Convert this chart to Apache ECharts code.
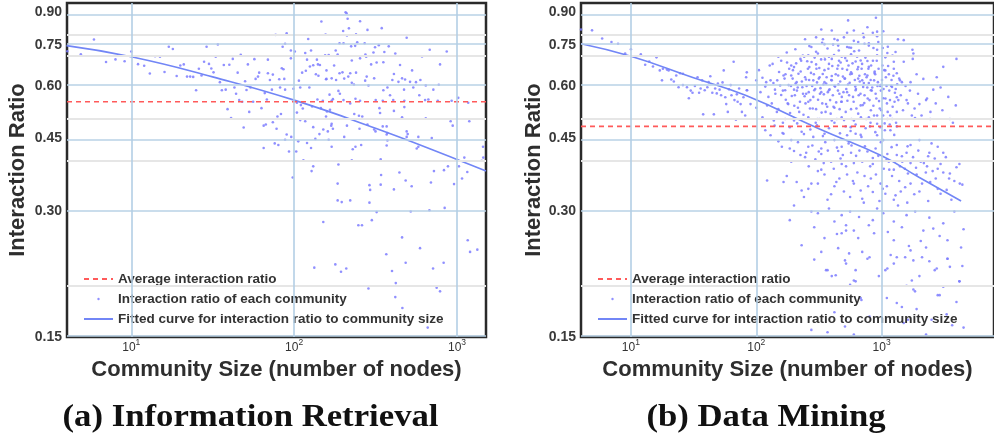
<!DOCTYPE html>
<html><head><meta charset="utf-8">
<script src="https://cdn.jsdelivr.net/npm/echarts@6/dist/echarts.min.js"></script>
<style>html,body{margin:0;padding:0;background:#fff}#c{width:994px;height:440px}</style>
</head><body><div id="c"></div>
<script>
// ---------- data (community size, interaction ratio) ----------
const irPoints = [
[5.9,0.776],[4.9,0.715],[4.05,0.727],[7.0,0.685],[8.0,0.695],[9.1,0.688],[10,0.726],[11,0.677],[12,0.671],[13,0.643],[14,0.707],[15,0.705],[16,0.648],[17,0.745],[18,0.736],[19,0.634],[20,0.672],[21,0.676],[22,0.632],[23,0.632],[24,0.631],[25,0.586],[26,0.66],[27,0.636],[28,0.686],[29,0.745],[30,0.678],[31,0.661],[32,0.647],[33,0.705],[34,0.755],[35,0.613],[36,0.586],[37,0.674],[38,0.588],[40,0.675],[39,0.528],[41,0.503],[42,0.697],[43,0.595],[44,0.575],[45,0.646],[46,0.555],[47,0.713],[48,0.55],[49,0.477],[50,0.616],[51,0.587],[52,0.676],[53,0.52],
[207,0.902],[210,0.897],[213,0.870],[147,0.857],[254,0.858],[77,0.796],[90,0.803],[156,0.797],[200,0.813],[217,0.825],[211,0.793],[240,0.798],[282,0.818],[345,0.826],[491,0.783],[122,0.778],[88,0.758],[85,0.745],[190,0.76],[201,0.76],[244,0.764],[271,0.76],[331,0.752],[314,0.743],[381,0.747],[95.5,0.73],[101,0.726],[127,0.73],[117,0.72],[155,0.711],[163,0.712],[180,0.73],[185,0.714],[224,0.747],[237,0.749],[274,0.714],[277,0.705],[307,0.722],[358,0.724],[418,0.718],[680,0.733],[865,0.726],[610,0.706],
[57,0.696],[69,0.694],[95.5,0.699],[120,0.694],[138,0.694],[226,0.691],[254,0.699],[297,0.676],[321,0.683],[353,0.684],[447,0.674],[530,0.654],[787,0.676],
[61,0.646],[69,0.644],[74,0.639],[84,0.662],[86,0.658],[112,0.646],[118,0.653],[125,0.668],[131,0.673],[140,0.676],[144,0.674],[136,0.64],[141,0.635],[158,0.654],[176,0.672],[157,0.623],[190,0.644],[198,0.647],[221,0.644],[240,0.646],[215,0.632],[279,0.632],[273,0.618],[410,0.641],[401,0.62],[460,0.626],[480,0.622],[560,0.613],[596,0.62],
[60,0.632],[58,0.624],[71,0.62],[81,0.623],[87,0.624],[107,0.618],[158,0.624],[170,0.626],[181,0.62],[203,0.625],[226,0.611],[233,0.605],[286,0.602],[310,0.626],[437,0.614],[515,0.614],[643,0.602],[716,0.588],[773,0.604],
[54,0.595],[66,0.577],[73,0.588],[82,0.595],[88,0.588],[99,0.591],[109,0.595],[124,0.595],[165,0.572],[173,0.558],[187,0.584],[191,0.575],[353,0.586],[374,0.595],[388,0.57],[473,0.588],[539,0.595],[587,0.57],[667,0.557],[762,0.553],
[139,0.557],[150,0.553],[170,0.553],[238,0.559],[254,0.553],[317,0.555],[350,0.553],[406,0.555],[475,0.553],[637,0.555],[927,0.553],[1018,0.562],[1172,0.547],
[56,0.55],[63,0.531],[68,0.557],[104,0.547],[110,0.54],[113,0.53],[129,0.536],[146,0.531],[166,0.526],[159,0.521],[201,0.555],[221,0.545],[334,0.531],[337,0.517],[410,0.523],[475,0.534],
[83,0.514],[79,0.507],[104,0.518],[109,0.497],[157,0.507],[170,0.487],[234,0.514],[250,0.509],[262,0.507],[460,0.505],[643,0.502],
[65,0.482],[67,0.485],[74,0.491],[78,0.474],[117,0.494],[131,0.478],[143,0.46],[151,0.472],[161,0.467],[169,0.482],[173,0.474],[211,0.482],[252,0.474],[282,0.485],[310,0.472],[316,0.467],[350,0.48],[370,0.48],[374,0.463],[370,0.459],[491,0.467],[498,0.46],[914,0.494],[941,0.482],[1190,0.494],
[90,0.459],[96,0.453],[88,0.446],[76,0.437],[80,0.433],[65,0.426],
[106,0.442],[120,0.438],[135,0.448],[163,0.446],[170,0.429],[203,0.453],[238,0.429],[258,0.433],[374,0.444],[370,0.432],[491,0.453],[579,0.453],[700,0.45],[579,0.429],[566,0.425],[1445,0.429],
[93,0.418],[103,0.418],[127,0.426],[229,0.423],[114,0.398],[131,0.385],[128,0.375],[187,0.389],[226,0.398],[340,0.40],[443,0.372],[484,0.356],[527,0.345],[692,0.352],[722,0.375],[832,0.377],[880,0.385],[959,0.349],[1028,0.385],[1074,0.36],[1157,0.373],[1109,0.404],[1419,0.397],[1450,0.404],[98,0.362],[185,0.35],[185,0.319],[196,0.316],[221,0.319],[290,0.347],[293,0.338],[290,0.315],[342,0.367],[340,0.348],[410,0.339],[321,0.299],[300,0.286],[520,0.30],[677,0.302],[840,0.306],[151,0.283],[248,0.278],[261,0.278],[460,0.26],[593,0.245],[368,0.237],[484,0.226],[713,0.219],[828,0.226],[1164,0.256],[1203,0.24],[1333,0.243],[133,0.22],[179,0.224],[194,0.215],[209,0.219],[399,0.216],[421,0.202],[286,0.196],[418,0.187],[750,0.197],[787,0.193],[462,0.176],[661,0.158]
];
const dmPoints = [
[4.0,0.82],[4.9,0.816],[5.9,0.78],[7.0,0.765],[7.9,0.758],[9.0,0.718],[10,0.735],[10.8,0.705],[12,0.715],[13,0.675],[14,0.687],[15,0.668],[16,0.703],[17,0.654],[18,0.66],[19.4,0.657],[17.7,0.619],[20,0.654],[21,0.622],[22,0.615],[23,0.636],[24.7,0.644],[26,0.642],[24,0.596],[26,0.603],[28,0.596],[29,0.561],[30,0.585],[31,0.578],[32.4,0.60],[34,0.63],[35,0.578],[36,0.592],[37,0.619],[37.7,0.513],[38.8,0.586],[40.7,0.596],[41.7,0.613],[43,0.633],[44.6,0.578],[45.9,0.513],[47,0.592],[48.4,0.576],[49.4,0.608],[51,0.588],[52.4,0.57],[53.8,0.612],[55,0.654],[56.6,0.564],[57.6,0.543],[59.3,0.52],[60.6,0.589],[62.5,0.603],[63.4,0.57],[66,0.686],[67,0.555],[68.8,0.498],[70,0.573],[71,0.55],[73,0.592],[75,0.543],[76.8,0.52],[79,0.564],[81.6,0.51],[83,0.63],[84,0.647],[84.5,0.586],
[540,0.862],[900,0.875],[330,0.82],[400,0.815],[770,0.83],[920,0.81],[1030,0.812],[530,0.805],[600,0.815],[710,0.80],[850,0.805],
[245,0.777],[300,0.785],[340,0.777],[420,0.778],[445,0.773],[920,0.79],[1350,0.777],[1500,0.773],[650,0.765],[730,0.758],
[275,0.744],[350,0.756],[450,0.75],[530,0.744],[570,0.741],[790,0.75],[920,0.733],[1110,0.72],[1290,0.724],[1760,0.733],[1790,0.718],
[225,0.697],[260,0.711],[310,0.718],[350,0.707],[400,0.697],[480,0.705],[570,0.715],[620,0.687],[680,0.691],[770,0.689],[920,0.711],[1070,0.703],[1250,0.686],[1500,0.686],[1770,0.697],[3950,0.697],[3100,0.667],
[135,0.678],[190,0.672],[200,0.666],[265,0.666],[300,0.676],[380,0.678],[450,0.672],[530,0.656],[650,0.666],[790,0.667],[880,0.65],[1070,0.654],[1320,0.644],[1400,0.619],[1900,0.64],[2150,0.624],[2750,0.63],
[100,0.619],[120,0.613],[130,0.619],[147,0.619],[165,0.636],[190,0.636],[210,0.613],[245,0.63],[285,0.619],[320,0.63],[350,0.613],[400,0.619],[450,0.636],[510,0.625],[570,0.647],[650,0.625],[700,0.619],[770,0.636],[870,0.619],[980,0.603],[1210,0.597],[1450,0.613],[1700,0.613],[2580,0.588],[2950,0.595],
[84,0.586],[108,0.58],[142,0.575],[170,0.586],[200,0.588],[250,0.575],[290,0.586],[330,0.58],[380,0.586],[460,0.575],[530,0.58],[620,0.586],[730,0.57],[820,0.586],[1030,0.561],[1320,0.564],[1580,0.555],[2000,0.543],[2260,0.555],[3900,0.539],[3500,0.50],
[90,0.543],[100,0.532],[122,0.539],[150,0.528],[180,0.543],[215,0.532],[260,0.55],[300,0.528],[360,0.543],[420,0.532],[480,0.55],[570,0.528],[680,0.539],[820,0.525],[920,0.51],[1170,0.51],[1320,0.52],[1740,0.51],[2440,0.50],[1845,0.503],
[112,0.505],[138,0.496],[170,0.50],[200,0.496],[260,0.505],[320,0.50],[400,0.496],[480,0.505],[600,0.496],[790,0.505],[920,0.487],[1110,0.50],
[130,0.457],[165,0.461],[190,0.445],[230,0.466],[285,0.453],[350,0.461],[420,0.445],[530,0.457],[620,0.461],[690,0.453],[920,0.457],[1030,0.445],[1320,0.433],[1700,0.433],[2000,0.445],[2500,0.437],[2800,0.429],
[160,0.429],[260,0.429],[330,0.425],[480,0.429],
[200,0.419],[250,0.415],[330,0.412],[450,0.419],[570,0.415],[850,0.403],[1110,0.412],[1450,0.407],[1580,0.415],[2350,0.407],[3100,0.415],[4170,0.39],
[122,0.356],[165,0.353],[210,0.353],[230,0.337],[275,0.35],[310,0.375],[350,0.368],[435,0.353],[480,0.39],[530,0.368],[600,0.35],[680,0.337],[730,0.365],[850,0.334],[980,0.35],[1070,0.331],[1210,0.365],[1290,0.328],[1540,0.343],[1700,0.35],[1900,0.368],[2100,0.35],[2440,0.353],[2950,0.331],[3500,0.37],[3950,0.383],
[185,0.286],[275,0.30],[310,0.297],[420,0.284],[480,0.294],[520,0.278],[660,0.291],[850,0.286],[1030,0.297],[1250,0.284],[1580,0.294],[2150,0.27],[2580,0.273],[3100,0.281],
[230,0.249],[350,0.259],[480,0.266],[520,0.27],[650,0.259],[870,0.266],[1250,0.256],[1700,0.242],[2260,0.246],[3350,0.256],[4300,0.246],
[510,0.229],[620,0.217],[770,0.231],[1110,0.219],[1320,0.233],[1790,0.229],[2750,0.219],[3350,0.231],[370,0.217],[400,0.21],
[620,0.204],[1580,0.199],[1790,0.195],[4170,0.204],[680,0.186],[1320,0.181],[2900,0.189],[3950,0.182],[275,0.156],[370,0.154],[600,0.152],[1500,0.162],[2260,0.152],
[330,0.24],[550,0.238],[800,0.233],[1180,0.236],[1540,0.233],[2100,0.233],[3350,0.231],[360,0.217],[430,0.211],[520,0.225],[600,0.205],[1070,0.217],[1740,0.205],[2650,0.217],[3500,0.221],[4170,0.204],[1845,0.193],[2800,0.189],[690,0.184],[1450,0.177],[510,0.159],[1620,0.165],[3650,0.16],
[105,0.655],[112,0.628],[118,0.598],[125,0.565],[128,0.672],[133,0.545],[137,0.61],[141,0.588],[146,0.52],[152,0.648],[155,0.602],[158,0.571],[163,0.49],[168,0.625],[172,0.556],[176,0.683],[181,0.603],[186,0.517],[192,0.568],[196,0.655],[201,0.538],[206,0.608],[211,0.585],[217,0.642],[223,0.55],[228,0.69],[233,0.596],[238,0.512],[243,0.567],[249,0.622],[255,0.688],[262,0.58],[268,0.53],[273,0.645],[279,0.6],[285,0.565],[292,0.702],[298,0.49],[305,0.612],[311,0.556],[318,0.663],[325,0.593],[332,0.518],[339,0.641],[346,0.573],[353,0.695],[361,0.608],[368,0.535],[376,0.66],[384,0.589],[392,0.515],[400,0.634],[408,0.57],[417,0.712],[425,0.598],[434,0.548],[443,0.66],[452,0.605],[462,0.528],[471,0.683],[481,0.565],[491,0.632],[501,0.497],[512,0.7],[522,0.59],[533,0.553],[544,0.672],[556,0.611],[567,0.478],[579,0.642],[591,0.565],[604,0.727],[616,0.598],[629,0.53],[642,0.658],[656,0.57],[669,0.615],[683,0.505],[698,0.678],[712,0.597],[727,0.546],[742,0.702],[758,0.63],[774,0.56],[790,0.61],[807,0.48],[824,0.672],[841,0.595],[859,0.538],[877,0.645],[895,0.575],[914,0.69],[933,0.613],[953,0.552],[973,0.6],[993,0.525],[1014,0.672],[1035,0.59],[1057,0.488],[1080,0.63],[1102,0.545],[1126,0.67],[1150,0.585],[1174,0.47],[1199,0.62],[1224,0.535],[1250,0.66],[1276,0.578],[1303,0.49],[1330,0.606],[1358,0.555],
[118,0.47],[140,0.482],[162,0.463],[185,0.478],[212,0.488],[240,0.46],[270,0.472],[305,0.483],[340,0.455],[380,0.475],[420,0.49],[465,0.462],[515,0.48],[565,0.468],[620,0.485],[680,0.458],[745,0.475],[815,0.49],[890,0.465],[975,0.478],[1060,0.47],[1160,0.485],[1260,0.458],
[150,0.705],[175,0.722],[205,0.735],[235,0.71],[265,0.748],[300,0.725],[335,0.762],[370,0.738],[410,0.755],[455,0.73],[500,0.785],[550,0.742],[600,0.77],[660,0.73],[720,0.785],[790,0.76],[860,0.74],[940,0.765],[1020,0.74],[1120,0.745],[1220,0.71],
[150,0.442],[185,0.425],[215,0.44],[245,0.405],[280,0.432],[315,0.418],[355,0.44],[395,0.395],[440,0.427],[490,0.41],[545,0.437],[600,0.392],[665,0.42],[735,0.43],[810,0.385],[895,0.425],[985,0.44],[1090,0.398],[1200,0.428],[1320,0.41],[1460,0.395],[1610,0.43],[1780,0.405],[1960,0.42],[2170,0.392],[2400,0.415],[2650,0.402],[2950,0.39],[3250,0.405],
[175,0.365],[260,0.34],[330,0.378],[395,0.33],[460,0.36],[560,0.325],[640,0.372],[780,0.345],[900,0.368],[1020,0.34],[1150,0.378],[1380,0.355],[1620,0.37],[1820,0.33],[2250,0.372],[2700,0.36],[3300,0.338],[4400,0.348],
[200,0.31],[290,0.275],[380,0.305],[440,0.265],[560,0.3],[600,0.27],[720,0.315],[790,0.278],[920,0.305],[1120,0.268],[1350,0.31],[1450,0.275],[1850,0.3],[2050,0.255],[2400,0.29],[2900,0.262],[3800,0.3],[4500,0.272],
[290,0.23],[450,0.245],[560,0.2],[700,0.24],[950,0.21],[1250,0.225],[1650,0.248],[2000,0.21],[2400,0.228],[3100,0.198],[4400,0.222],
[420,0.172],[800,0.168],[1100,0.186],[1900,0.175],[2500,0.165],[3300,0.17],[4500,0.158],
[158,0.69],[163,0.585],[171,0.64],[178,0.545],[183,0.66],[189,0.6],[195,0.625],[203,0.57],[208,0.68],[214,0.595],[220,0.52],[226,0.65],[231,0.615],[236,0.575],[241,0.705],[247,0.545],[252,0.6],[258,0.66],[264,0.62],[270,0.555],[276,0.685],[282,0.53],[288,0.64],[295,0.59],[302,0.66],[308,0.5],[315,0.625],[322,0.575],[329,0.695],[336,0.545],[343,0.605],[350,0.655],[357,0.52],[364,0.63],[372,0.58],[380,0.705],[388,0.555],[396,0.62],[404,0.67],[413,0.535],[421,0.6],[430,0.64],[439,0.5],[448,0.585],[457,0.69],[467,0.615],[476,0.55],[486,0.66],[496,0.58],[506,0.625],[517,0.52],[528,0.69],[539,0.605],[550,0.57],[562,0.64],[574,0.5],[586,0.68],[598,0.55],[611,0.62],[624,0.59],[637,0.705],[650,0.515],[664,0.635],[678,0.575],[692,0.66],[707,0.54],[721,0.61],[736,0.64],[752,0.5],[768,0.595],[784,0.66],[800,0.555],[817,0.62],[834,0.585],[852,0.69],[870,0.51],[888,0.64],[907,0.56],[926,0.6],[945,0.66],[965,0.53],[986,0.585],[1006,0.62],[1028,0.51],[1049,0.655],[1072,0.56],[1094,0.6],[1117,0.52],[1141,0.64],[1165,0.555],[1190,0.6],[1215,0.5],[1241,0.635],[1267,0.55],[1294,0.59],[1321,0.48],[1380,0.625],[1420,0.57],[1480,0.525],[1550,0.6],[1620,0.545],[1680,0.585],[1830,0.53],[1950,0.575],[2080,0.51],[2300,0.56],[2450,0.52],[2700,0.545],[3050,0.525],[3400,0.565],[3700,0.49],
[190,0.395],[225,0.41],[262,0.385],[296,0.4],[345,0.392],[372,0.42],[415,0.38],[470,0.402],[520,0.385],[575,0.432],[625,0.408],[700,0.395],[770,0.418],[850,0.39],[940,0.408],[1040,0.38],[1140,0.395],[1250,0.378],[1400,0.385],[1530,0.38],[1700,0.392],[1880,0.382],[2050,0.395],[2300,0.385],[2550,0.375],[2800,0.38],[3100,0.372],[3450,0.36],[3800,0.355],[4200,0.35],
[240,0.325],[310,0.35],[370,0.32],[420,0.345],[500,0.335],[590,0.355],[700,0.322],[820,0.36],[960,0.318],[1100,0.345],[1250,0.32],[1420,0.335],[1600,0.315],[2000,0.335],[2350,0.318],[2800,0.34],[3600,0.32]
];
const irAverage = 0.55;
const dmAverage = 0.48;
const irFitSizes  = [4, 10, 31.6, 100, 316, 1000, 1507];
const irFitRatios = [0.75, 0.705, 0.631, 0.555, 0.475, 0.40, 0.375];
const dmFitSizes  = [4, 10, 31.6, 82, 316, 1000, 2000, 4300];
const dmFitRatios = [0.758, 0.707, 0.628, 0.57, 0.474, 0.408, 0.362, 0.318];
const yTickValues  = [0.15, 0.30, 0.45, 0.60, 0.75, 0.90];
const yMinorValues = [0.2, 0.4, 0.5, 0.7, 0.8];
const xTickValues  = [10, 100, 1000];
const irXRange = [4.03, 1507];
const dmXRange = [4.0, 7870];
const yRange = [0.15, 0.949];
const panelTitles = ['(a) Information Retrieval', '(b) Data Mining'];

// ---------- chart ----------
const L = Math.log10;
const FONT = '"Liberation Sans", Arial, Helvetica, sans-serif';
const N_AVG = 'Average interaction ratio';
const N_PTS = 'Interaction ratio of each community';
const N_FIT = 'Fitted curve for interaction ratio to community size';
const DOT_ICON = 'path://M0,0L0,0M29,14L29,14M13.3,7A1.2,1.2,0,1,0,15.7,7A1.2,1.2,0,1,0,13.3,7Z';

const panels = [
  {pts: irPoints, avg: irAverage, fs: irFitSizes, fr: irFitRatios, xr: irXRange, left: 67, nameGap: 38},
  {pts: dmPoints, avg: dmAverage, fs: dmFitSizes, fr: dmFitRatios, xr: dmXRange, left: 581, nameGap: 36}
];

const grid = [], xAxis = [], yAxis = [], series = [];
panels.forEach((p, i) => {
  grid.push({left: p.left, top: 3, width: 419, height: 334, show: true,
    borderColor: '#2a2a2a', borderWidth: 2.5, backgroundColor: 'transparent'});
  xAxis.push({type: 'value', gridIndex: i, min: L(p.xr[0]), max: L(p.xr[1]),
    axisLine: {show: false}, axisTick: {show: false}, splitLine: {show: false},
    axisLabel: {customValues: xTickValues.map(L), margin: 1, color: '#333',
      formatter: v => '{b|10}{s|' + Math.round(v) + '}',
      rich: {b: {fontFamily: FONT, fontSize: 12, lineHeight: 20, color: '#333'},
             s: {fontFamily: FONT, fontSize: 8.5, lineHeight: 9, verticalAlign: 'top', color: '#333'}}},
    name: 'Community Size (number of nodes)', nameLocation: 'middle', nameGap: 19,
    nameTextStyle: {fontFamily: FONT, fontSize: 22, fontWeight: 'bold', color: '#2e2e2e'}});
  yAxis.push({type: 'value', gridIndex: i, min: L(yRange[0]), max: L(yRange[1]),
    axisLine: {show: false}, axisTick: {show: false}, splitLine: {show: false},
    axisLabel: {customValues: yTickValues.map(L), margin: 5, fontFamily: FONT, fontSize: 14,
      fontWeight: 'bold', color: '#3a3a3a', formatter: v => Math.pow(10, v).toFixed(2)},
    name: 'Interaction Ratio', nameLocation: 'middle', nameGap: p.nameGap, nameRotate: 90,
    nameTextStyle: {fontFamily: FONT, fontSize: 22, fontWeight: 'bold', color: '#2e2e2e'}});

  const ml = [];
  yMinorValues.forEach(v => ml.push({yAxis: L(v), lineStyle: {color: '#e6e6e6', width: 2, type: 'solid'}}));
  yTickValues.forEach(v => ml.push({yAxis: L(v), lineStyle: {color: '#b9d2e6', width: 1.6, type: 'solid'}}));
  xTickValues.forEach(v => ml.push({xAxis: L(v), lineStyle: {color: '#b3cfe5', width: 1.6, type: 'solid'}}));
  series.push({type: 'line', name: 'grid' + i, xAxisIndex: i, yAxisIndex: i, data: [], z: 1, silent: true,
    markLine: {silent: true, symbol: ['none', 'none'], label: {show: false}, animation: false,
      emphasis: {disabled: true}, data: ml}});

  series.push({type: 'scatter', name: N_PTS, xAxisIndex: i, yAxisIndex: i, z: 2,
    symbol: 'circle', symbolSize: 2.6, itemStyle: {color: '#7c7cff', opacity: 0.85},
    data: p.pts.map(d => [L(d[0]), L(d[1])])});
  series.push({type: 'line', name: N_FIT, xAxisIndex: i, yAxisIndex: i, z: 3, smooth: true,
    symbol: 'none', lineStyle: {color: '#7286f6', width: 1.6}, itemStyle: {color: '#7286f6'},
    data: p.fs.map((s, k) => [L(s), L(p.fr[k])])});
  series.push({type: 'line', name: N_AVG, xAxisIndex: i, yAxisIndex: i, z: 3,
    symbol: 'none', lineStyle: {color: '#ff5a5a', width: 1.6, type: [5, 4]}, itemStyle: {color: '#ff5a5a'},
    data: [[L(p.xr[0]), L(p.avg)], [L(p.xr[1]), L(p.avg)]]});
});

const legendBase = {orient: 'vertical', top: 267, itemWidth: 29, itemHeight: 14, itemGap: 6, selectedMode: false,
  data: [{name: N_AVG, itemStyle: {opacity: 0}}, {name: N_PTS, icon: DOT_ICON}, {name: N_FIT, itemStyle: {opacity: 0}}],
  textStyle: {fontFamily: FONT, fontSize: 13.5, fontWeight: 'bold', color: '#333'}};

const option = {
  animation: false,
  backgroundColor: '#fff',
  grid, xAxis, yAxis, series,
  legend: [Object.assign({left: 78}, legendBase), Object.assign({left: 592}, legendBase)],
  graphic: [
    {type: 'text', x: 250.5, y: 418, scaleX: 1.12, style: {text: panelTitles[0], font: 'bold 31px "Liberation Serif", "Times New Roman", serif', fill: '#111', align: 'center', verticalAlign: 'middle'}},
    {type: 'text', x: 766, y: 418, scaleX: 1.12, style: {text: panelTitles[1], font: 'bold 31px "Liberation Serif", "Times New Roman", serif', fill: '#111', align: 'center', verticalAlign: 'middle'}}
  ]
};
echarts.init(document.getElementById('c'), null, {renderer: 'canvas'}).setOption(option);
</script>
</body></html>
